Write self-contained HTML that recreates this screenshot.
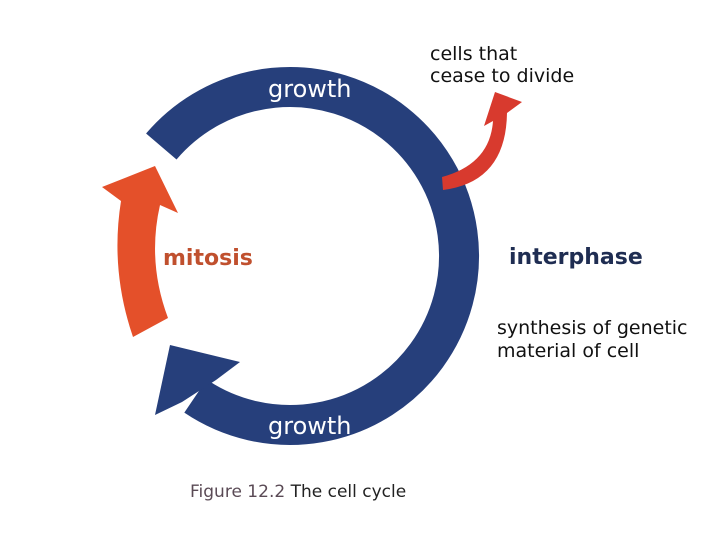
<!DOCTYPE html>
<html><head><meta charset="utf-8"><style>
html,body{margin:0;padding:0;background:#fff;}
svg{display:block}
text{font-family:"DejaVu Sans","Liberation Sans",sans-serif;}
</style></head><body>
<svg width="720" height="540" viewBox="0 0 720 540" xmlns="http://www.w3.org/2000/svg">
<rect width="720" height="540" fill="#fff"/>
<path d="M 161.3 146.5 A 169 169 0 1 1 195.5 396.1" fill="none" stroke="#263f7b" stroke-width="40"/>
<polygon points="170,345 240,362 216,380 182,402 155,415" fill="#263f7b"/>
<path d="M 155 166 L 178 213 L 160 205 Q 147 262 168 318 L 133 337 Q 110 270 121 201 L 102 187 Z" fill="#e4502a"/>
<path d="M 442 177 Q 490 164 493 121 L 484 126 L 495 92 L 522 102 L 507 113 Q 506 182 443 190 Z" fill="#d83a2e"/>
<text x="268" y="97" font-size="24" fill="#fff">growth</text>
<text x="268" y="434" font-size="24" fill="#fff">growth</text>
<text x="163" y="265" font-size="22" font-weight="bold" fill="#c0502e">mitosis</text>
<text x="509" y="264" font-size="22" font-weight="bold" fill="#1f2d52">interphase</text>
<text x="430" y="60" font-size="19" fill="#111">cells that</text>
<text x="430" y="82" font-size="19" fill="#111">cease to divide</text>
<text x="497" y="334" font-size="19" fill="#111">synthesis of genetic</text>
<text x="497" y="357" font-size="19" fill="#111">material of cell</text>
<text x="190" y="497" font-size="17" fill="#5a4a55">Figure 12.2 <tspan fill="#222">The cell cycle</tspan></text>
</svg>
</body></html>
